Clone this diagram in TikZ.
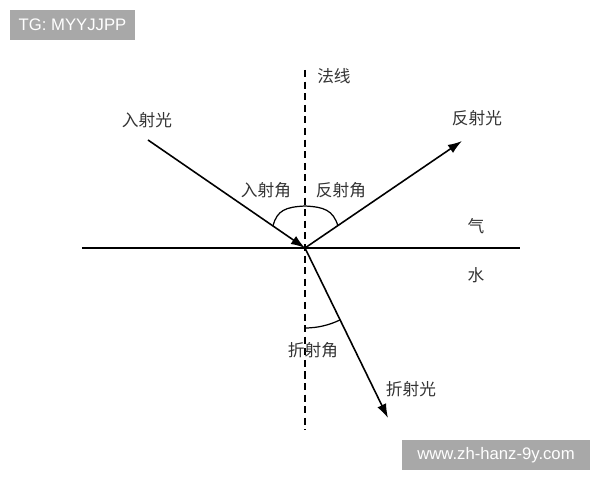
\documentclass[tikz,border=0pt]{standalone}
\usepackage{fontspec}
\setsansfont{Liberation Sans}
\newfontfamily\cjk{Noto Sans CJK SC}
\usetikzlibrary{
    arrows.meta,
    positioning
}
\definecolor{markgray}{HTML}{A8A8A8}
\tikzset{
    ray/.style={line width=0.9pt, -{Latex[length=8pt, width=5.5pt]}},
    surface/.style={line width=0.9pt},
    normal/.style={line width=0.9pt, dash pattern=on 4pt off 2.6pt},
    angarc/.style={line width=0.7pt},
    lbl/.style={font=\cjk\fontsize{9.5}{11}\selectfont, text=black!80, inner sep=0pt},
    wmark/.style={fill=markgray, text=white, font=\sffamily\fontsize{9.5}{11}\selectfont, minimum height=0.6cm, inner sep=0pt}
}

\begin{document}
\begin{tikzpicture}[x=0.02cm, y=0.02cm]
    \useasboundingbox (0, 0) rectangle (600, 480);
    \coordinate (O) at (305, 232);
    \coordinate (surfL) at (82, 232);
    \coordinate (surfR) at (520, 232);
    \coordinate (normTop) at (305, 410);
    \coordinate (normBot) at (305, 50);
    \coordinate (inStart) at (148, 340);
    \coordinate (reflEnd) at (462, 339);
    \coordinate (refrEnd) at (388, 62);
    \coordinate (inArc) at (273, 254);
    \coordinate (arcTop) at (305, 274);
    \coordinate (reflArc) at (338, 254);
    \draw[surface] (surfL) -- (surfR);
    \draw[normal] (normTop) -- (normBot);
    \draw[ray] (inStart) -- (O);
    \draw[ray] (O) -- (reflEnd);
    \draw[ray] (O) -- (refrEnd);
    % brace-like arc above the surface
    \draw[angarc] (inArc) .. controls (277, 270) and (286, 273) .. (arcTop)
                  .. controls (324, 273) and (333, 270) .. (reflArc);
    \draw[angarc] (O) ++(-90:80) arc[start angle=-90, end angle=-64, radius=1.6cm];
    \node[lbl] (inLight) at (147, 360) {入射光};
    \node[lbl] (reflLight) at (477, 362) {反射光};
    \node[lbl] (normLbl) at (334, 404) {法线};
    \node[lbl] (inAngle) at (266, 290) {入射角};
    \node[lbl] (reflAngle) at (341, 290) {反射角};
    \node[lbl] (air) at (476, 254) {气};
    \node[lbl] (water) at (476, 205) {水};
    \node[lbl] (refrAngle) at (313, 130) {折射角};
    \node[lbl] (refrLight) at (411, 91) {折射光};
    \node[wmark, minimum width=2.5cm] (tagTop) at (72.5, 455) {TG: MYYJJPP};
    \node[wmark, minimum width=3.76cm] (tagBot) at (496, 25) {www.zh-hanz-9y.com};
\end{tikzpicture}
\end{document}
